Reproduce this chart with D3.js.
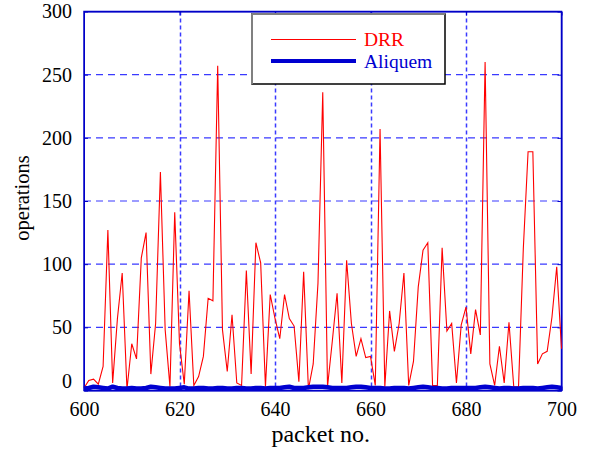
<html>
<head>
    <meta charset="utf-8">
    <script src="https://d3js.org/d3.v7.min.js"></script>
    <style>
      body { margin: 0; background: #fff; }
    </style>
</head>
<body>
    <div id="my_dataviz"></div>
<script>

    // packet numbers 600..700 (x values)
    const packets = d3.range(600, 701)

    // DRR operations per packet
    const drrValues = [
      2, 8, 9, 5, 19, 127, 6, 57, 93, 1,
      37, 25, 105, 125, 13, 53, 173, 48, 3, 141,
      37, 5, 79, 4, 11, 27, 73, 71, 257, 48,
      15, 60, 6, 4, 95, 13, 117, 101, 3, 76,
      57, 41, 76, 57, 51, 7, 94, 1, 21, 85,
      236, 3, 39, 77, 6, 103, 53, 27, 41, 26,
      27, 4, 207, 3, 63, 31, 53, 93, 4, 23,
      82, 111, 117, 4, 4, 113, 47, 53, 6, 52,
      66, 29, 64, 44, 260, 21, 4, 35, 6, 54,
      3, 3, 112, 189, 189, 21, 29, 31, 58, 98,
      33
    ]

    // Aliquem operations per packet (thick line hugging zero)
    const aliquemValues = [
      1.5, 2, 3, 2.5, 2, 1.5, 3, 2, 1.5, 1.5,
      2, 1.5, 1.5, 2, 3, 2.5, 2, 1.5, 1.5, 1.5,
      2, 2.5, 1.5, 1.5, 2, 2, 1.5, 1.5, 2, 2,
      1.5, 1.5, 2, 2, 1.5, 1.5, 2, 2, 1.5, 2,
      2, 2, 2.5, 3, 2, 2, 2, 2.5, 3, 3,
      3, 2.5, 2, 2, 2, 2, 2.5, 3, 3, 2.5,
      2, 2, 2, 1.5, 1.5, 2, 2, 2, 1.5, 2,
      2.5, 3, 2.5, 2, 2, 1.5, 1.5, 2, 2, 2,
      2, 2, 2, 2.5, 3, 2.5, 2, 1.5, 2, 2,
      1.5, 1.5, 2, 2, 2, 1.5, 2, 2.5, 3, 2.5,
      2
    ]

    const xTicks = [600, 620, 640, 660, 680, 700]
    const yTicks = [0, 50, 100, 150, 200, 250, 300]
    const seriesNames = ["DRR", "Aliquem"]

    const serif = "Liberation Serif"

    // set the dimensions and margins of the graph
    let margin = {top: 11.5, right: 31.5, bottom: 59.5, left: 84},
      width = 593 - margin.left - margin.right,
      height = 450 - margin.top - margin.bottom;

    const svg = d3.select("#my_dataviz")
    .append("svg")
      .attr("width", 593)
      .attr("height", 450)
      .attr("font-family", serif)
    .append("g")
      .attr("transform", `translate(${margin.left}, ${margin.top})`);

    const x = d3.scaleLinear().domain([600, 700]).range([0, width])
    const y = d3.scaleLinear().domain([0, 300]).range([height, 0])

    const frameColor = "#0000c8"
    const gridColor = "#3a3aff"

    // grid lines
    svg.append("g")
      .selectAll("line")
      .data(yTicks.slice(1, -1))
      .join("line")
        .attr("x1", 0).attr("x2", width)
        .attr("y1", d => y(d)).attr("y2", d => y(d))
        .style("stroke", gridColor)
        .style("stroke-width", 1.2)
        .style("stroke-dasharray", "7,5")
    svg.append("g")
      .selectAll("line")
      .data(xTicks.slice(1, -1))
      .join("line")
        .attr("x1", d => Math.round(x(d)) + 0.5).attr("x2", d => Math.round(x(d)) + 0.5)
        .attr("y1", 0).attr("y2", height)
        .style("stroke", gridColor)
        .style("stroke-width", 1.5)
        .style("stroke-dasharray", "4,3")

    // axes with inward ticks
    const xAxis = svg.append("g")
      .attr("transform", `translate(0, ${height})`)
      .call(d3.axisBottom(x).tickValues(xTicks).tickSize(-4).tickPadding(13).tickSizeOuter(0))
    const yAxis = svg.append("g")
      .call(d3.axisLeft(y).tickValues(yTicks).tickSize(-4).tickPadding(12).tickSizeOuter(0))
    yAxis.selectAll(".tick").filter(d => d === 0).select("text").attr("dy", "-0.15em")
    // top and right ticks
    svg.append("g")
      .call(d3.axisTop(x).tickValues(xTicks).tickSize(-4).tickFormat("").tickSizeOuter(0))
    svg.append("g")
      .attr("transform", `translate(${width}, 0)`)
      .call(d3.axisRight(y).tickValues(yTicks).tickSize(-4).tickFormat("").tickSizeOuter(0))

    svg.selectAll("g").attr("font-family", serif).attr("font-size", 20)
    svg.selectAll(".domain").style("stroke", frameColor)
    svg.selectAll(".tick line").style("stroke", frameColor)
    svg.selectAll(".tick text")
      .attr("font-family", serif)
      .attr("font-size", 20)
      .attr("fill", "#000")
    xAxis.selectAll(".tick text").attr("dy", "0.6em")

    // frame
    svg.append("rect")
      .attr("width", width).attr("height", height)
      .style("fill", "none")
      .style("stroke", frameColor)
      .style("stroke-width", 1.5)

    // lines
    const line = d3.line()
      .x((d, i) => x(packets[i]))
      .y(d => y(d))

    svg.append("path")
      .datum(drrValues)
      .attr("d", line)
      .style("fill", "none")
      .style("stroke", "#ff0000")
      .style("stroke-width", 1.1)

    svg.append("path")
      .datum(aliquemValues)
      .attr("d", line)
      .style("fill", "none")
      .style("stroke", "#0000d0")
      .style("stroke-width", 4.5)
      .style("stroke-linejoin", "round")

    // legend
    const legend = svg.append("g").attr("transform", `translate(${252 - margin.left}, ${14 - margin.top})`)
    legend.append("rect")
      .attr("width", 193).attr("height", 70)
      .style("fill", "#fff")
      .style("stroke", "#000")
      .style("stroke-width", 1.5)
    legend.append("line")
      .attr("x1", 0).attr("x2", 193).attr("y1", 0).attr("y2", 0)
      .style("stroke", "#808080").style("stroke-width", 2)
    legend.append("line")
      .attr("x1", 0).attr("x2", 0).attr("y1", 0).attr("y2", 70)
      .style("stroke", "#808080").style("stroke-width", 2)

    const legendColors = ["#ff0000", "#0000d0"]
    const legendWidths = [1, 4]
    seriesNames.forEach((name, i) => {
      const ly = 25.5 + i * 21.5
      legend.append("line")
        .attr("x1", 19).attr("x2", 104)
        .attr("y1", ly).attr("y2", ly)
        .style("stroke", legendColors[i])
        .style("stroke-width", legendWidths[i])
      legend.append("text")
        .attr("x", 112).attr("y", ly + 6.5)
        .attr("font-family", serif)
        .attr("font-size", 19.5)
        .attr("fill", legendColors[i])
        .text(name)
    })

    // axis titles
    svg.append("text")
      .attr("x", width / 2 - 2).attr("y", height + 51.5)
      .attr("text-anchor", "middle")
      .attr("font-family", serif)
      .attr("font-size", 24)
      .text("packet no.")
    svg.append("text")
      .attr("transform", `translate(${-margin.left + 29}, ${height / 2 - 3}) rotate(-90)`)
      .attr("text-anchor", "middle")
      .attr("font-family", serif)
      .attr("font-size", 20.5)
      .text("operations")

</script>
</body>
</html>
